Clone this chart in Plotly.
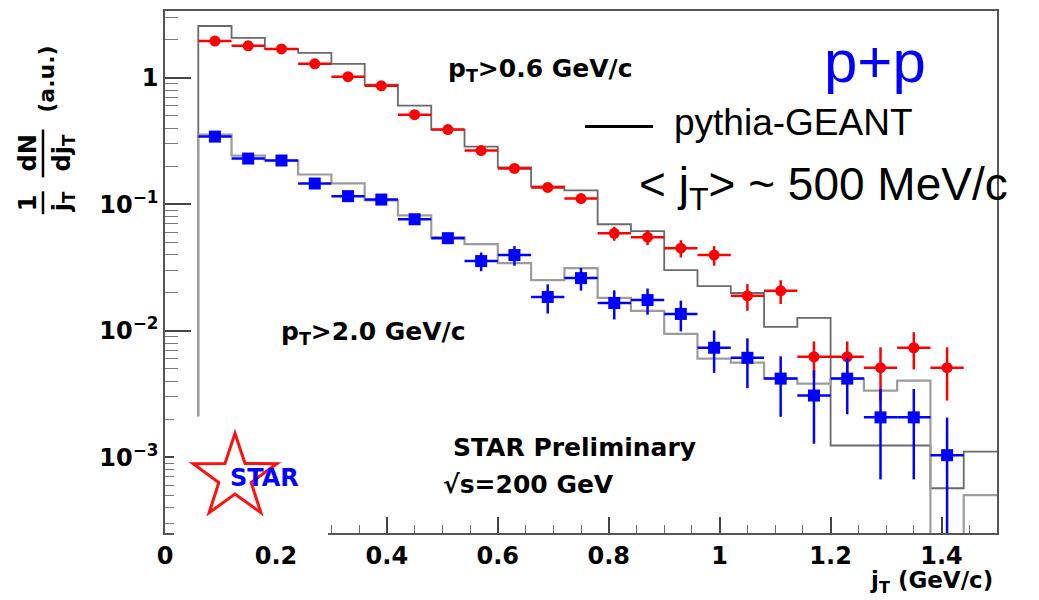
import math
import plotly.graph_objects as go

# ---- data ---------------------------------------------------------------
# bin centres of the measured points (GeV/c)
jt_centers = [0.09, 0.15, 0.21, 0.27, 0.33, 0.39, 0.45, 0.51, 0.57, 0.63, 0.69, 0.75,
              0.81, 0.87, 0.93, 0.99, 1.05, 1.11, 1.17, 1.23, 1.29, 1.35, 1.41]
jt_halfwidth = [0.03] * len(jt_centers)

# pT > 0.6 GeV/c
red_vals = [1.95, 1.79, 1.69, 1.29, 1.02, 0.865, 0.511, 0.39, 0.266, 0.192, 0.136, 0.111,
            0.059, 0.055, 0.045, 0.0397, 0.0189, 0.0207, 0.00624, 0.00624, 0.00511, 0.00735, 0.00511]
red_errs = [0.06, 0.05, 0.05, 0.04, 0.03, 0.025, 0.016, 0.012, 0.008, 0.006, 0.005, 0.004,
            0.0075, 0.0075, 0.007, 0.007, 0.0045, 0.0044, 0.002, 0.002, 0.0023, 0.0024, 0.0023]

# pT > 2.0 GeV/c
blue_vals = [0.343, 0.230, 0.222, 0.146, 0.116, 0.109, 0.0762, 0.054, 0.0356, 0.0397, 0.0185, 0.0261,
             0.0166, 0.0175, 0.0136, 0.00735, 0.00612, 0.00419, 0.00308, 0.00419, 0.00207, 0.00207, 0.00104]
blue_errs = [0.012, 0.009, 0.008, 0.006, 0.005, 0.005, 0.004, 0.0035, 0.006, 0.007, 0.0048, 0.0053,
             0.0043, 0.0041, 0.0037, 0.0027, 0.0026, 0.0021, 0.0018, 0.002, 0.0014, 0.0014, 0.00102]

# pythia-GEANT histograms (bin edges and contents)
mc_edges = [0.06, 0.12, 0.18, 0.24, 0.30, 0.36, 0.42, 0.48, 0.54, 0.60, 0.66, 0.72, 0.78,
            0.84, 0.90, 0.96, 1.02, 1.08, 1.14, 1.20, 1.26, 1.32, 1.38, 1.44, 1.50]
mc_low_pt = [2.567, 2.065, 1.692, 1.574, 1.289, 0.881, 0.602, 0.390, 0.286, 0.1956, 0.1386, 0.1289,
             0.0696, 0.0613, 0.0302, 0.0226, 0.0199, 0.01075, 0.01266, 0.00124, 0.00124, 0.00124,
             0.00057, 0.00111]
mc_high_pt = [0.356, 0.243, 0.222, 0.172, 0.1463, 0.1075, 0.0819, 0.0550, 0.0484, 0.0343, 0.0252, 0.0313,
              0.0182, 0.01437, 0.00947, 0.00602, 0.0056, 0.00419, 0.00383, 0.00419, 0.00337, 0.00404,
              0.0, 0.000502]

x_ticks = [0, 0.2, 0.4, 0.6, 0.8, 1.0, 1.2, 1.4]
x_ticktext = ["0", "0.2", "0.4", "0.6", "0.8", "1", "1.2", "1.4"]
y_ticks = [0.001, 0.01, 0.1, 1]
y_ticktext = ["10<sup>\u22123</sup>", "10<sup>\u22122</sup>", "10<sup>\u22121</sup>", "1"]

# ---- geometry -----------------------------------------------------------
W, H = 1039, 600
ML, MR, MT, MB = 165, 42, 9, 67
PW, PH = W - ML - MR, H - MT - MB


def xp(px):
    return (px - ML) / PW


def yp(py):
    return (H - MB - py) / PH


FLOOR = 1e-6  # empty bins are pushed below the visible range on the log axis


def step_xy(edges, contents):
    xs = [edges[0]] + list(edges)
    vals = [c if c > 0 else FLOOR for c in contents]
    ys = [FLOOR] + vals + [vals[-1]]
    return xs, ys


ROOT_FONT = "DejaVu Sans"
fig = go.Figure()

for contents, col, w in [(mc_low_pt, "#6a6a6a", 1.8), (mc_high_pt, "#9c9c9c", 2.2)]:
    sx, sy = step_xy(mc_edges, contents)
    fig.add_trace(go.Scatter(x=sx, y=sy, mode="lines", line=dict(color=col, width=w, shape="hv"),
                             showlegend=False, hoverinfo="skip", cliponaxis=True))

fig.add_trace(go.Scatter(
    x=jt_centers, y=red_vals, mode="markers",
    marker=dict(symbol="circle", size=11, color="#ff0000"),
    error_x=dict(type="data", array=jt_halfwidth, color="#ff0000", thickness=2.5, width=0),
    error_y=dict(type="data", array=red_errs, color="#ff0000", thickness=2.5, width=0),
    showlegend=False))

fig.add_trace(go.Scatter(
    x=jt_centers, y=blue_vals, mode="markers",
    marker=dict(symbol="square", size=12, color="#0000ff"),
    error_x=dict(type="data", array=jt_halfwidth, color="#0000ff", thickness=2.5, width=0),
    error_y=dict(type="data", array=blue_errs, color="#0000ff", thickness=2.5, width=0),
    showlegend=False))

minor_y = [k * 10.0 ** n for n in range(-4, 1) for k in range(2, 10) if 2.5e-4 <= k * 10.0 ** n <= 3.4]

fig.update_layout(
    width=W, height=H,
    margin=dict(l=ML, r=MR, t=MT, b=MB, pad=0),
    paper_bgcolor="white", plot_bgcolor="white",
    showlegend=False,
    xaxis=dict(range=[0, 1.5], tickmode="array", tickvals=x_ticks, ticktext=x_ticktext,
               ticks="inside", ticklen=16, tickwidth=1.5, tickcolor="#444",
               minor=dict(dtick=0.05, tick0=0, ticks="inside", ticklen=8, tickwidth=1.2,
                          tickcolor="#666", showgrid=False),
               showline=True, linecolor="#555", linewidth=1.5, mirror=True,
               showgrid=False, zeroline=False,
               tickfont=dict(family=ROOT_FONT, size=24, color="black", weight="bold")),
    yaxis=dict(type="log", range=[-3.598, 0.528], tickmode="array", tickvals=y_ticks,
               ticktext=y_ticktext, ticks="inside", ticklen=26, tickwidth=1.5, tickcolor="#444",
               minor=dict(tickmode="array", tickvals=minor_y, ticks="inside", ticklen=13,
                          tickwidth=1.2, tickcolor="#777", showgrid=False),
               showline=True, linecolor="#555", linewidth=1.5, mirror=True,
               showgrid=False, zeroline=False,
               tickfont=dict(family=ROOT_FONT, size=24, color="black", weight="bold")),
)

shapes = []
# blank patch under the logo
shapes.append(dict(type="rect", xref="paper", yref="paper", x0=xp(174), x1=xp(328),
                   y0=yp(537), y1=yp(416), fillcolor="white", line=dict(width=0), layer="above"))
# star outline of the logo
cx, cy, r_out, r_in = 235, 477, 44, 17
pts = []
for k in range(10):
    ang = math.pi / 2 + k * math.pi / 5
    r = r_out if k % 2 == 0 else r_in
    pts.append((cx + r * math.cos(ang), cy - r * math.sin(ang)))
star_path = "M " + " L ".join(f"{xp(x):.5f},{yp(y):.5f}" for x, y in pts) + " Z"
shapes.append(dict(type="path", xref="paper", yref="paper", path=star_path,
                   line=dict(color="#ff1010", width=3), fillcolor="rgba(0,0,0,0)", layer="above"))
# legend sample line
shapes.append(dict(type="line", xref="paper", yref="paper", x0=xp(585), x1=xp(653),
                   y0=yp(125), y1=yp(125), line=dict(color="black", width=3), layer="above"))
# fraction bars of the y title
shapes.append(dict(type="line", xref="paper", yref="paper", x0=xp(43), x1=xp(43),
                   y0=yp(213), y1=yp(190), line=dict(color="black", width=2.5), layer="above"))
shapes.append(dict(type="line", xref="paper", yref="paper", x0=xp(43), x1=xp(43),
                   y0=yp(176), y1=yp(128), line=dict(color="black", width=2.5), layer="above"))
fig.update_layout(shapes=shapes)


def note(text, x, y, size, color="black", family=ROOT_FONT, bold=True, xanchor="center",
         angle=0):
    fig.add_annotation(text=text, x=xp(x), y=yp(y), xref="paper", yref="paper",
                       showarrow=False, xanchor=xanchor, yanchor="middle", textangle=angle,
                       font=dict(family=family, size=size, color=color,
                                 weight="bold" if bold else "normal"))


note("p<sub>T</sub>&gt;0.6 GeV/c", 540, 68, 25)
note("p<sub>T</sub>&gt;2.0 GeV/c", 373, 332, 25)
note("STAR Preliminary", 574, 447, 25)
note("\u221as=200 GeV", 528, 484, 25)
note("STAR", 264, 478, 24, color="#0000ff")
note("j<sub>T</sub> (GeV/c)", 995, 582, 23, xanchor="right")

note("p+p", 875, 60, 60, color="#0000ff", family="Liberation Sans", bold=False)
note("pythia-GEANT", 672, 121, 37, family="Liberation Sans", bold=False, xanchor="left")
note("&lt; j<sub>T</sub>&gt; ~ 500 MeV/c", 637, 186, 46, family="Liberation Sans", bold=False,
     xanchor="left")

# y title: (1/jT) dN/djT (a.u.)
note("1", 28, 202, 24, angle=-90)
note("j<sub>T</sub>", 63, 201, 24, angle=-90)
note("dN", 28, 152, 24, angle=-90)
note("dj<sub>T</sub>", 63, 152, 24, angle=-90)
note("(a.u.)", 47, 78, 22, angle=-90)

fig.write_html("out.html")
